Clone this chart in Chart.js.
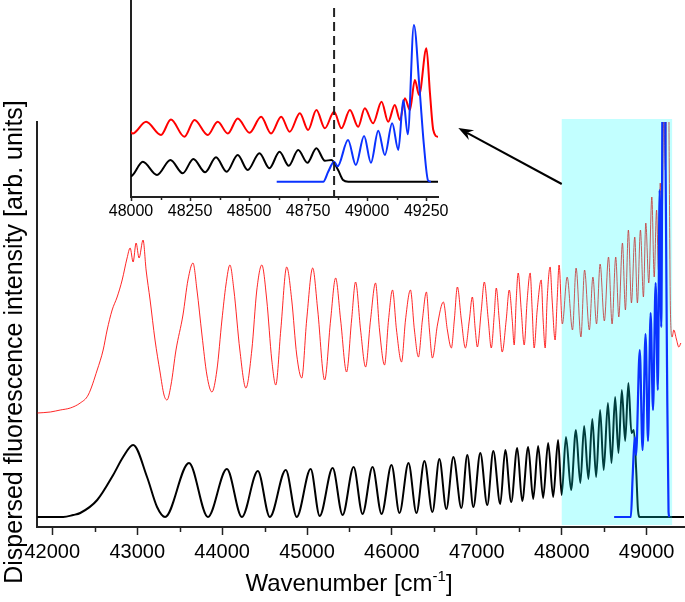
<!DOCTYPE html>
<html>
<head>
<meta charset="utf-8">
<script src="https://cdn.jsdelivr.net/npm/chart.js@4.4.0/dist/chart.umd.min.js"></script>
<style>
  html, body { margin: 0; padding: 0; background: #fff; }
  #wrap { position: relative; width: 685px; height: 602px; }
  #main { position: absolute; left: 0; top: 0; width: 685px; height: 602px; }
  #inset { position: absolute; left: 100px; top: 0; width: 360px; height: 225px; }
</style>
</head>
<body>
<div id="wrap">
  <canvas id="main" width="685" height="602"></canvas>
  <canvas id="inset" width="360" height="225"></canvas>
</div>
<script>
// Wavenumber (cm-1) and intensity (arb. units)

// measured dispersed fluorescence (red)
const redX = [41824, 41977, 42094, 42212, 42329, 42423, 42529, 42599, 42646, 42705,
  42764, 42823, 42881, 42917, 42952, 42987, 43022, 43069, 43105, 43152,
  43210, 43269, 43316, 43351, 43398, 43457, 43539, 43598, 43657, 43704,
  43763, 43821, 43880, 43939, 43998, 44045, 44092, 44139, 44209, 44280,
  44350, 44409, 44468, 44526, 44585, 44632, 44691, 44761, 44820, 44879,
  44938, 44996, 45067, 45126, 45208, 45278, 45337, 45396, 45466, 45525,
  45572, 45631, 45690, 45748, 45807, 45854, 45913, 45960, 46007, 46054,
  46113, 46160, 46218, 46265, 46312, 46359, 46406, 46442, 46477, 46536,
  46606, 46653, 46700, 46735, 46771, 46818, 46865, 46912, 46947, 46982,
  47006, 47053, 47088, 47135, 47170, 47205, 47229, 47264, 47299, 47346,
  47382, 47417, 47440, 47464, 47487, 47523, 47558, 47593, 47628, 47652,
  47675, 47711, 47758, 47781, 47805, 47828, 47863, 47887, 47922, 47946,
  47969, 48007, 48064, 48127, 48169, 48226, 48269, 48325, 48367, 48410,
  48452, 48502, 48551, 48593, 48636, 48672, 48715, 48750, 48785, 48821,
  48860, 48891, 48927, 48962, 48990, 49025, 49061, 49089, 49117, 49139,
  49160, 49181, 49202, 49220, 49251, 49266, 49280, 49300, 49320, 49350,
  49379, 49403];
const redY = [1.04, 1.05, 1.07, 1.09, 1.14, 1.22, 1.47, 1.67, 1.87, 2.07,
  2.20, 2.37, 2.59, 2.69, 2.55, 2.74, 2.59, 2.77, 2.47, 2.17,
  1.77, 1.45, 1.22, 1.17, 1.32, 1.67, 2.02, 2.37, 2.54, 2.27,
  1.82, 1.42, 1.25, 1.47, 1.97, 2.32, 2.52, 2.27, 1.67, 1.29,
  1.67, 2.27, 2.52, 2.17, 1.57, 1.32, 1.87, 2.50, 2.17, 1.62,
  1.39, 1.97, 2.49, 2.07, 1.37, 1.97, 2.39, 1.97, 1.45, 1.97,
  2.35, 1.87, 1.50, 1.97, 2.34, 1.87, 1.52, 1.97, 2.27, 1.87,
  1.55, 1.97, 2.27, 1.87, 1.60, 1.97, 2.25, 1.87, 1.59, 1.92,
  2.15, 1.87, 1.69, 1.97, 2.30, 1.97, 1.69, 1.97, 2.20, 1.87,
  1.70, 2.07, 2.35, 1.97, 1.69, 2.02, 2.29, 1.97, 1.65, 1.97,
  2.27, 1.97, 1.72, 2.17, 2.44, 2.07, 1.72, 2.17, 2.44, 2.07,
  1.69, 2.07, 2.37, 1.97, 1.69, 2.17, 2.50, 2.17, 1.77, 2.17,
  2.52, 1.93, 2.40, 1.87, 2.49, 1.80, 2.47, 1.87, 2.40, 1.93,
  2.53, 1.96, 2.60, 1.93, 2.60, 2.00, 2.74, 2.07, 2.87, 2.14,
  2.80, 2.14, 2.87, 2.20, 2.94, 2.34, 3.20, 2.40, 3.07, 2.47,
  3.34, 2.87, 4.07, 3.47, 5.34, 3.54, 2.07, 1.80, 1.87, 1.78,
  1.70, 1.74];

// simulated progression (black), peaks and troughs
const blackX = [41824, 42129, 42247, 42329, 42529, 42717, 42834, 42952, 43116, 43234,
  43328, 43610, 43833, 44056, 44233, 44421, 44562, 44750, 44879, 45043,
  45149, 45302, 45419, 45549, 45654, 45772, 45878, 45995, 46089, 46195,
  46289, 46383, 46477, 46559, 46641, 46724, 46818, 46888, 46959, 47041,
  47123, 47194, 47276, 47335, 47405, 47476, 47534, 47605, 47664, 47722,
  47781, 47840, 47899, 47957, 47999, 48050, 48110, 48167, 48219, 48264,
  48314, 48360, 48405, 48452, 48494, 48544, 48586, 48629, 48668, 48708,
  48747, 48785, 48821, 48849, 48877, 48898, 48920, 49440];
const blackY = [0, 0, 0.02, 0.04, 0.17, 0.42, 0.60, 0.72, 0.40, 0.10,
  0, 0.54, 0, 0.48, 0, 0.46, 0, 0.47, 0, 0.48,
  0.01, 0.49, 0.02, 0.50, 0.03, 0.50, 0.03, 0.52, 0.04, 0.54,
  0.04, 0.56, 0.05, 0.58, 0.08, 0.60, 0.09, 0.62, 0.10, 0.64,
  0.12, 0.66, 0.13, 0.67, 0.15, 0.69, 0.16, 0.70, 0.18, 0.71,
  0.19, 0.74, 0.20, 0.77, 0.22, 0.80, 0.27, 0.87, 0.34, 0.91,
  0.38, 0.98, 0.40, 1.07, 0.47, 1.14, 0.54, 1.20, 0.64, 1.27,
  0.76, 1.34, 0.84, 0.87, 0.47, 0.07, 0, 0];

// simulated progression (blue)
const blueX = [48617, 48814, 48835, 48860, 48875, 48919, 48952, 48987, 49016, 49047,
  49075, 49106, 49132, 49153, 49172, 49198, 49222, 49240, 49258, 49270];
const blueY = [0, 0, 0.40, 0.80, 0.62, 1.67, 0.67, 1.83, 0.76, 2.04,
  1.07, 2.34, 1.27, 3.27, 1.90, 6.27, 3.70, 1.50, 0.05, 0];

// dashed marker in the inset
const dashX = [48860, 48860];
const dashY = [6.95, -0.61];

// tick labels
const mainTicks = [42000, 43000, 44000, 45000, 46000, 47000, 48000, 49000];
const mainMinor = [42500, 43500, 44500, 45500, 46500, 47500, 48500];
const insetTicks = [48000, 48250, 48500, 48750, 49000, 49250];
const insetMinor = [48125, 48375, 48625, 48875, 49125];

const FONT = '"Liberation Sans", Arial, Helvetica, sans-serif';
Chart.defaults.font.family = FONT;
Chart.defaults.color = '#000';

function pts(xs, ys) {
  return xs.map((x, i) => ({ x: x, y: ys[i] }));
}

// short ticks between the labelled ones
const minorTicks = {
  id: 'minorTicks',
  afterDraw(chart, args, o) {
    const s = chart.scales.x, ctx = chart.ctx;
    ctx.save();
    ctx.strokeStyle = '#222';
    ctx.lineWidth = o.width;
    o.values.forEach(v => {
      const px = Math.round(s.getPixelForValue(v)) + 0.5;
      ctx.beginPath();
      ctx.moveTo(px, s.top);
      ctx.lineTo(px, s.top + o.len);
      ctx.stroke();
    });
    ctx.restore();
  }
};

// translucent cyan band, drawn over red/black but under blue
const cyanBand = {
  id: 'cyanBand',
  afterDatasetDraw(chart, args, o) {
    if (args.index !== 1) return;
    const { x, y } = chart.scales;
    const x0 = x.getPixelForValue(o.from), x1 = x.getPixelForValue(o.to);
    const y0 = y.getPixelForValue(o.top), y1 = y.getPixelForValue(o.bottom);
    const ctx = chart.ctx;
    ctx.save();
    ctx.fillStyle = 'rgba(0, 255, 255, 0.24)';
    ctx.fillRect(x0, y0, x1 - x0, y1 - y0);
    ctx.restore();
  }
};

const arrow = {
  id: 'arrow',
  afterDraw(chart, args, o) {
    const { x, y } = chart.scales, ctx = chart.ctx;
    const x0 = x.getPixelForValue(o.from[0]), y0 = y.getPixelForValue(o.from[1]);
    const x1 = x.getPixelForValue(o.to[0]), y1 = y.getPixelForValue(o.to[1]);
    const a = Math.atan2(y1 - y0, x1 - x0), c = Math.cos(a), s = Math.sin(a);
    ctx.save();
    ctx.strokeStyle = '#000';
    ctx.fillStyle = '#000';
    ctx.lineWidth = 2;
    ctx.beginPath();
    ctx.moveTo(x0, y0);
    ctx.lineTo(x1 - 10 * c, y1 - 10 * s);
    ctx.stroke();
    ctx.beginPath();
    ctx.moveTo(x1, y1);
    ctx.lineTo(x1 - 15 * c + 5.5 * s, y1 - 15 * s - 5.5 * c);
    ctx.lineTo(x1 - 10 * c, y1 - 10 * s);
    ctx.lineTo(x1 - 15 * c - 5.5 * s, y1 - 15 * s + 5.5 * c);
    ctx.closePath();
    ctx.fill();
    ctx.restore();
  }
};

// axis titles (x title needs a superscript)
const titles = {
  id: 'titles',
  afterDraw(chart) {
    const ctx = chart.ctx;
    ctx.save();
    ctx.fillStyle = '#000';
    ctx.textBaseline = 'alphabetic';
    ctx.font = '24px ' + FONT;
    const t1 = 'Wavenumber [cm', t2 = '-1', t3 = ']';
    const w1 = ctx.measureText(t1).width, w3 = ctx.measureText(t3).width;
    ctx.font = '15px ' + FONT;
    const w2 = ctx.measureText(t2).width;
    let x = 349 - (w1 + w2 + w3) / 2;
    const base = 591;
    ctx.font = '24px ' + FONT;
    ctx.textAlign = 'left';
    ctx.fillText(t1, x, base);
    x += w1;
    ctx.font = '15px ' + FONT;
    ctx.fillText(t2, x, base - 10);
    x += w2;
    ctx.font = '24px ' + FONT;
    ctx.fillText(t3, x, base);

    ctx.translate(15, 342);
    ctx.rotate(-Math.PI / 2);
    ctx.textAlign = 'center';
    ctx.textBaseline = 'middle';
    ctx.font = '25px ' + FONT;
    ctx.fillText('Dispersed fluorescence intensity [arb. units]', 0, 0);
    ctx.restore();
  }
};

new Chart(document.getElementById('main'), {
  type: 'line',
  data: {
    datasets: [
      { data: pts(blueX, blueY), borderColor: '#0a32ff', borderWidth: 2.2, cubicInterpolationMode: 'monotone' },
      { data: pts(blackX, blackY), borderColor: '#000', borderWidth: 2, cubicInterpolationMode: 'monotone' },
      { data: pts(redX, redY), borderColor: 'rgba(255, 0, 0, 0.85)', borderWidth: 1, cubicInterpolationMode: 'monotone' }
    ]
  },
  options: {
    responsive: false,
    animation: false,
    events: [],
    elements: { point: { radius: 0 }, line: { fill: false } },
    layout: { padding: { top: 122, right: 1, left: 0, bottom: 0 } },
    plugins: {
      legend: { display: false },
      tooltip: { enabled: false },
      minorTicks: { values: mainMinor, len: 5, width: 1.5 },
      cyanBand: { from: 48000, to: 49300, top: 3.98, bottom: -0.08 },
      arrow: { from: [48000, 3.33], to: [46782, 3.89] }
    },
    scales: {
      x: {
        type: 'linear',
        min: 41820,
        max: 49440,
        afterBuildTicks: s => { s.ticks = mainTicks.map(v => ({ value: v })); },
        afterFit: s => { s.height = 75; },
        ticks: { callback: v => String(v), font: { size: 20 }, color: '#000', padding: 5, maxRotation: 0, autoSkip: false },
        grid: { display: true, drawOnChartArea: false, drawTicks: true, tickLength: 8, color: '#222', tickWidth: 1.5 },
        border: { display: true, color: '#222', width: 2 }
      },
      y: {
        type: 'linear',
        min: -0.10,
        max: 3.95,
        afterFit: s => { s.width = 37; },
        ticks: { display: false },
        grid: { display: false },
        border: { display: true, color: '#222', width: 2 }
      }
    }
  },
  plugins: [cyanBand, minorTicks, titles, arrow]
});

new Chart(document.getElementById('inset'), {
  type: 'line',
  data: {
    datasets: [
      { data: pts(dashX, dashY), borderColor: '#222', borderWidth: 2, borderDash: [9, 5] },
      { data: pts(blueX, blueY), borderColor: '#0a32ff', borderWidth: 2, cubicInterpolationMode: 'monotone' },
      { data: pts(blackX, blackY), borderColor: '#000', borderWidth: 2, cubicInterpolationMode: 'monotone' },
      { data: pts(redX, redY), borderColor: '#ff0000', borderWidth: 2, cubicInterpolationMode: 'monotone' }
    ]
  },
  options: {
    responsive: false,
    animation: false,
    events: [],
    elements: { point: { radius: 0 }, line: { fill: false } },
    layout: { padding: { top: 0, right: 22, left: 31, bottom: 0 } },
    plugins: {
      legend: { display: false },
      tooltip: { enabled: false },
      minorTicks: { values: insetMinor, len: 3, width: 1.5 }
    },
    scales: {
      x: {
        type: 'linear',
        min: 48000,
        max: 49300,
        afterBuildTicks: s => { s.ticks = insetTicks.map(v => ({ value: v })); },
        afterFit: s => { s.height = 28; },
        ticks: { callback: v => String(v), font: { size: 16 }, color: '#000', padding: 1, maxRotation: 0, autoSkip: false },
        grid: { display: true, drawOnChartArea: false, drawTicks: true, tickLength: 4, color: '#222', tickWidth: 1.5 },
        border: { display: true, color: '#222', width: 2 }
      },
      y: {
        type: 'linear',
        min: -0.61,
        max: 7.27,
        afterFit: s => { s.width = 0; },
        ticks: { display: false },
        grid: { display: false },
        border: { display: true, color: '#222', width: 2 }
      }
    }
  },
  plugins: [minorTicks]
});
</script>
</body>
</html>
